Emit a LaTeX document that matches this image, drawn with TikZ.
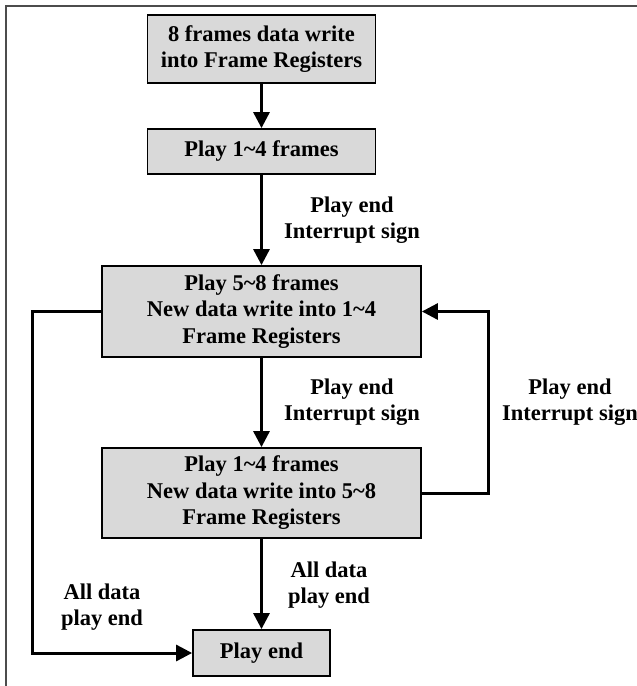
\documentclass[tikz,border=0pt]{standalone}
\usepackage{fontspec}
\setmainfont{Liberation Serif}
\usetikzlibrary{arrows.meta}
\begin{document}
\begin{tikzpicture}[x=1pt,y=-1pt]
\tikzstyle{boxstyle}=[draw, line width=1.8pt, fill=black!15, align=center, inner sep=0pt, font=\bfseries\fontsize{22.5}{26.5}\selectfont]
\tikzstyle{labelstyle}=[align=center, inner sep=0pt, font=\bfseries\fontsize{22.5}{26.5}\selectfont]
\tikzstyle{flow}=[line width=3pt, -{Triangle[length=16pt,width=16pt]}]
    \useasboundingbox (0,0) rectangle (637,686);
    % frame
    \coordinate (fb) at (6,686);
    \coordinate (fc) at (6,6);
    \coordinate (fr) at (637,6);
    \draw[line width=1.3pt, black!70] (fb) -- (fc) -- (fr);
    % boxes
    \node[boxstyle, minimum width=228pt, minimum height=68pt] (write) at (261.5,49) {8 frames data write\\into Frame Registers};
    \node[boxstyle, minimum width=228pt, minimum height=45pt] (play1) at (261.5,151.5) {Play 1\textasciitilde4 frames};
    \node[boxstyle, minimum width=319pt, minimum height=91pt] (play58) at (261.5,311.5) {Play 5\textasciitilde8 frames\\New data write into 1\textasciitilde4\\Frame Registers};
    \node[boxstyle, minimum width=319pt, minimum height=90pt] (play14) at (261.5,493) {Play 1\textasciitilde4 frames\\New data write into 5\textasciitilde8\\Frame Registers};
    \node[boxstyle, minimum width=137pt, minimum height=46pt] (playend) at (261.5,653) {Play end};
    % connectors
    \draw[flow] (write) -- (play1);
    \draw[flow] (play1) -- (play58);
    \draw[flow] (play58) -- (play14);
    \draw[flow] (play14) -- (playend);
    \draw[flow] (play14.east) -- ++(67,0) |- (play58.east);
    \draw[flow] (play58.west) -- ++(-69,0) |- (playend.west);
    % labels
    \node[labelstyle] (lab1) at (352,220) {Play end\\Interrupt sign};
    \node[labelstyle] (lab2) at (352,402) {Play end\\Interrupt sign};
    \node[labelstyle] (lab3) at (570,402) {Play end\\Interrupt sign};
    \node[labelstyle] (lab4) at (329,585) {All data\\play end};
    \node[labelstyle] (lab5) at (102,607) {All data\\play end};
\end{tikzpicture}
\end{document}
